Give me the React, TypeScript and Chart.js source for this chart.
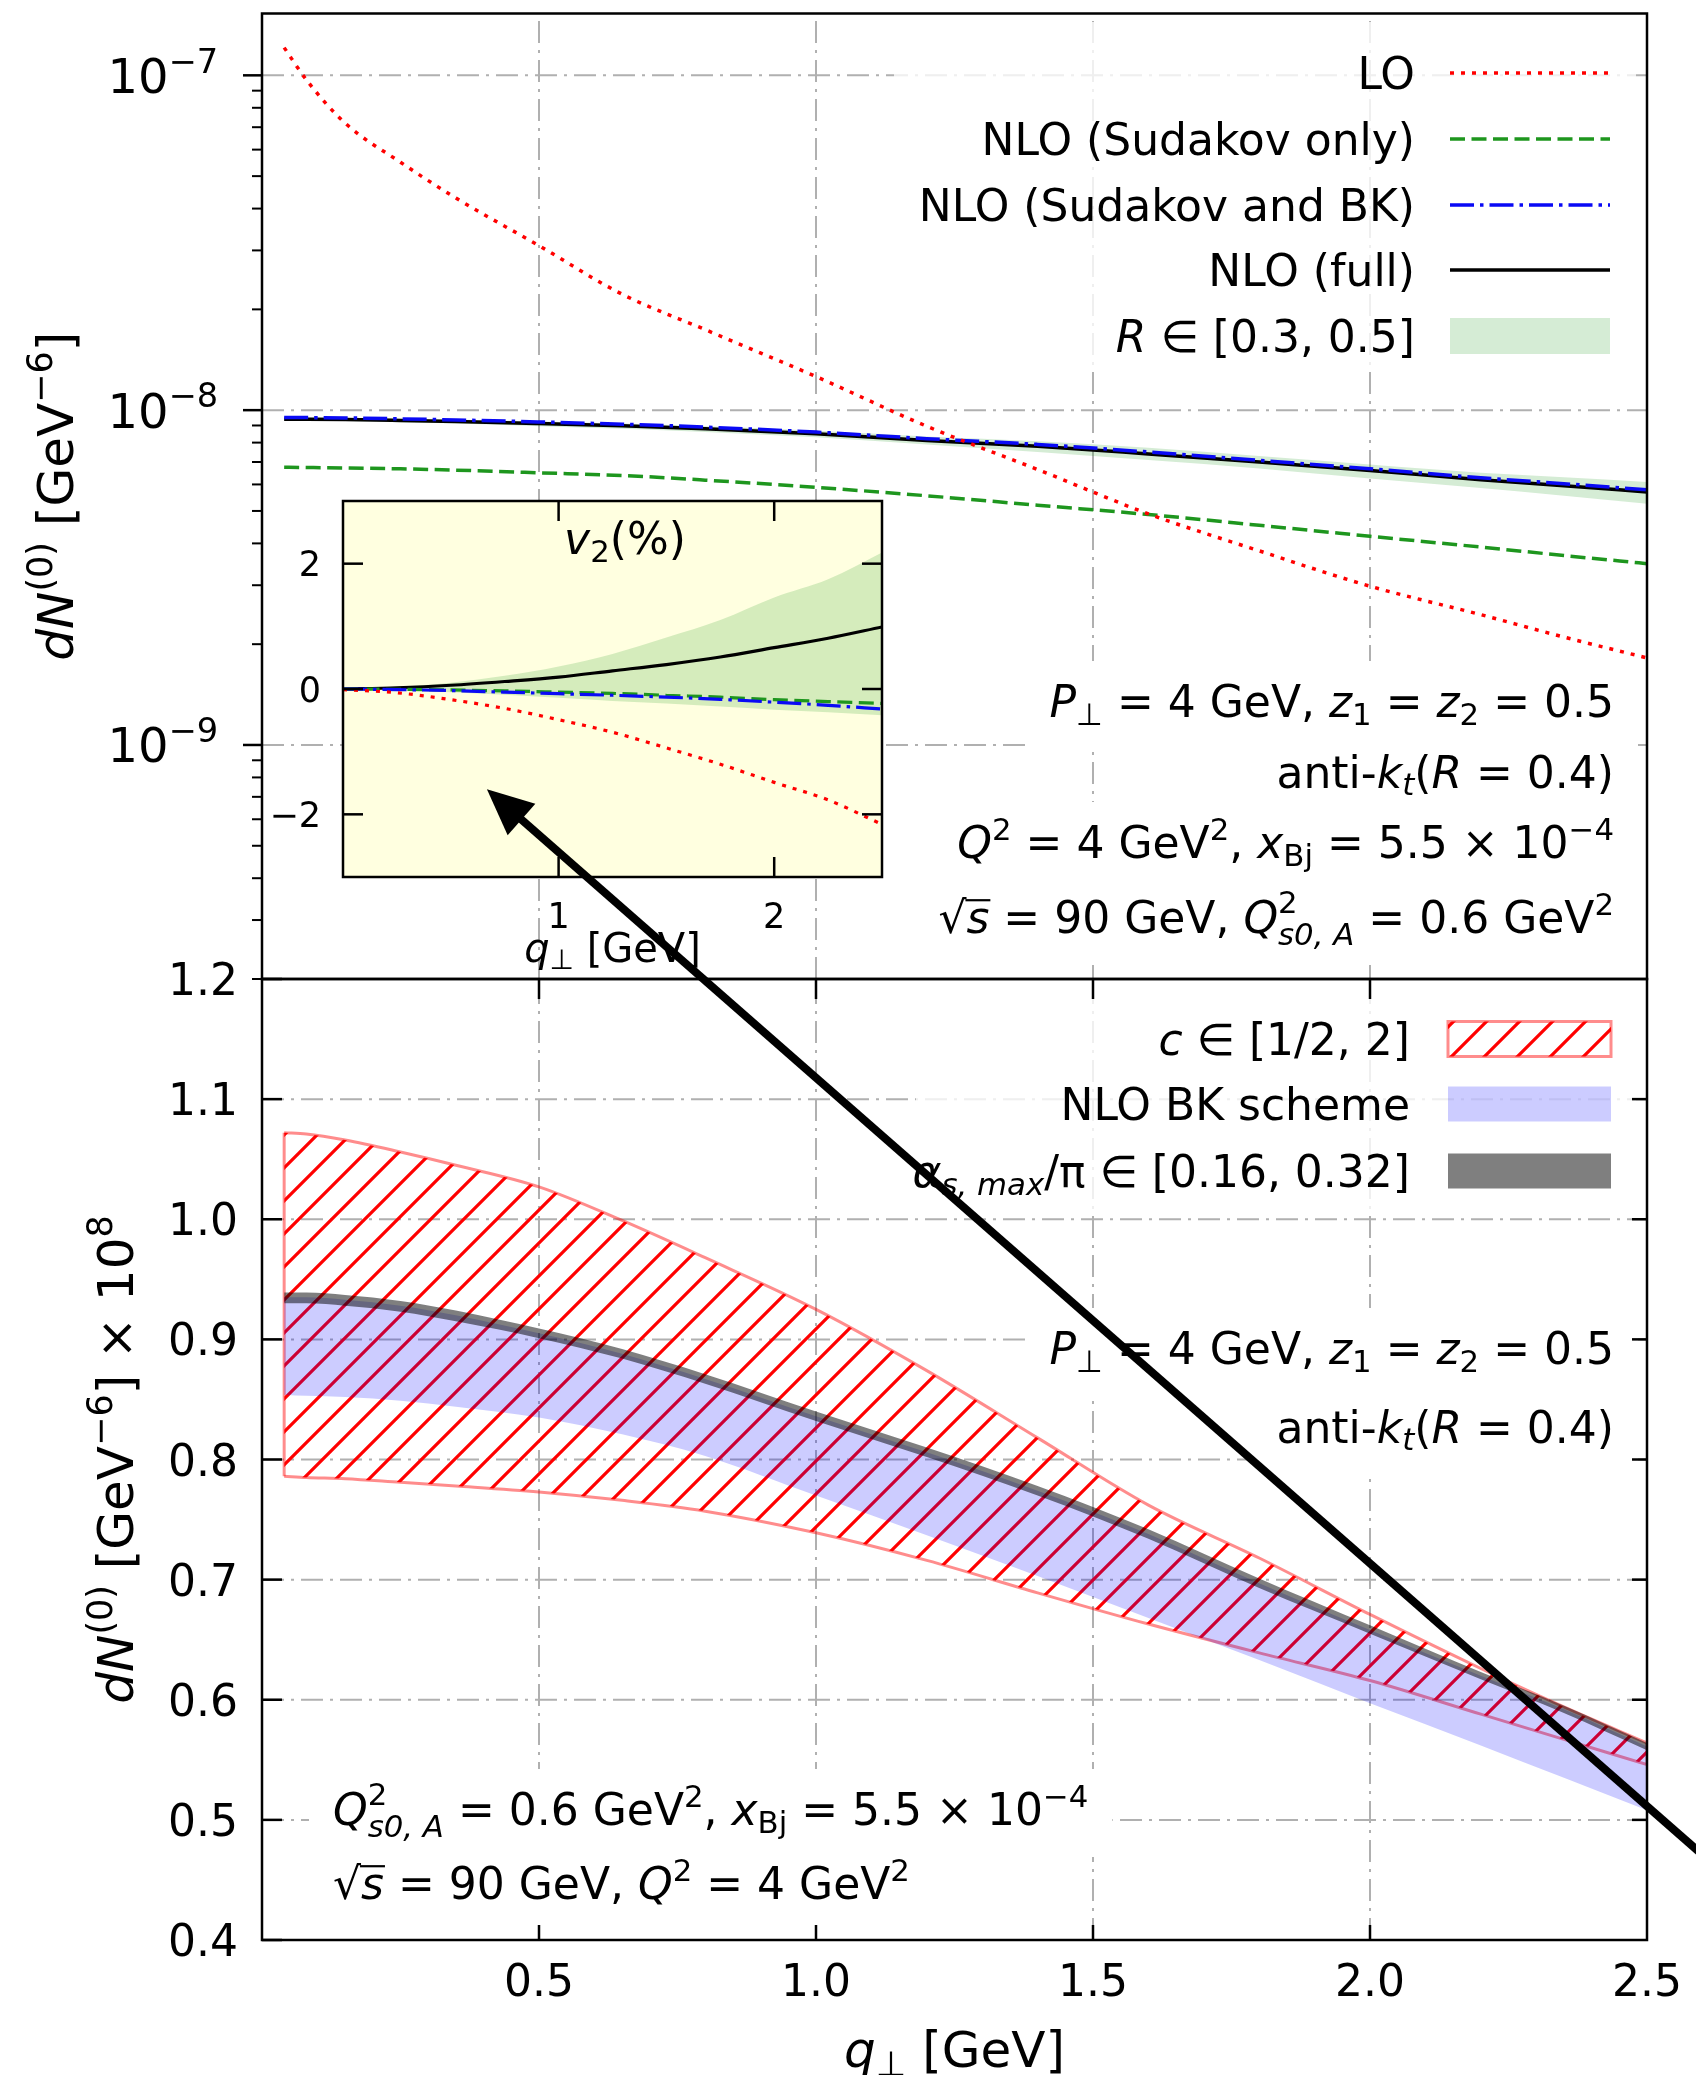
import React, { useEffect, useRef } from 'react';
import { Chart, registerables } from 'chart.js';

Chart.register(...registerables);

const W = 1696;
const H = 2075;

// ---------------- data ----------------
// q_perp values (GeV) shared by the two main panels
const Q = [0.04, 0.08, 0.15, 0.25, 0.35, 0.5, 0.65, 0.8, 1.0, 1.2, 1.4, 1.6, 1.8, 2.0, 2.2, 2.35, 2.5];

// top panel, dN^(0) [GeV^-6]
const LO = [1.21e-7, 9.7e-8, 7.2e-8, 5.5e-8, 4.3e-8, 3.1e-8, 2.22e-8, 1.74e-8, 1.26e-8, 8.95e-9, 6.65e-9, 4.9e-9, 3.8e-9, 2.98e-9, 2.45e-9, 2.1e-9, 1.82e-9];
const NLO_SUD = [6.75e-9, 6.74e-9, 6.72e-9, 6.68e-9, 6.62e-9, 6.5e-9, 6.38e-9, 6.18e-9, 5.88e-9, 5.55e-9, 5.2e-9, 4.88e-9, 4.53e-9, 4.2e-9, 3.9e-9, 3.68e-9, 3.48e-9];
const NLO_SUD_BK = [9.5e-9, 9.5e-9, 9.48e-9, 9.42e-9, 9.35e-9, 9.22e-9, 9.08e-9, 8.9e-9, 8.6e-9, 8.22e-9, 7.9e-9, 7.5e-9, 7.08e-9, 6.68e-9, 6.28e-9, 6.03e-9, 5.78e-9];
const NLO_FULL = [9.4e-9, 9.4e-9, 9.38e-9, 9.32e-9, 9.25e-9, 9.12e-9, 8.98e-9, 8.8e-9, 8.5e-9, 8.12e-9, 7.8e-9, 7.4e-9, 7.0e-9, 6.6e-9, 6.2e-9, 5.95e-9, 5.7e-9];
const R_LOW = [9.3e-9, 9.3e-9, 9.28e-9, 9.2e-9, 9.12e-9, 8.95e-9, 8.8e-9, 8.6e-9, 8.3e-9, 7.9e-9, 7.5e-9, 7.1e-9, 6.7e-9, 6.25e-9, 5.85e-9, 5.55e-9, 5.25e-9];
const R_HIGH = [9.5e-9, 9.5e-9, 9.48e-9, 9.43e-9, 9.37e-9, 9.25e-9, 9.12e-9, 8.95e-9, 8.68e-9, 8.35e-9, 8.08e-9, 7.72e-9, 7.3e-9, 6.88e-9, 6.5e-9, 6.3e-9, 6.1e-9];

// bottom panel, dN^(0) x 1e8
const C_LOW = [0.786, 0.785, 0.784, 0.781, 0.778, 0.773, 0.766, 0.757, 0.739, 0.716, 0.689, 0.663, 0.639, 0.616, 0.588, 0.567, 0.546];
const C_HIGH = [1.072, 1.071, 1.066, 1.056, 1.045, 1.027, 0.999, 0.968, 0.925, 0.874, 0.818, 0.762, 0.718, 0.671, 0.626, 0.594, 0.564];
const BK_LOW = [0.854, 0.853, 0.852, 0.849, 0.844, 0.835, 0.821, 0.803, 0.770, 0.737, 0.703, 0.668, 0.633, 0.597, 0.562, 0.535, 0.508];
const BK_HIGH = [0.935, 0.935, 0.933, 0.928, 0.920, 0.905, 0.888, 0.867, 0.836, 0.806, 0.774, 0.738, 0.697, 0.658, 0.620, 0.592, 0.561];
const AS_LOW = [0.930, 0.930, 0.928, 0.923, 0.915, 0.901, 0.884, 0.863, 0.832, 0.802, 0.770, 0.734, 0.693, 0.655, 0.617, 0.589, 0.558];
const AS_HIGH = [0.939, 0.939, 0.937, 0.932, 0.924, 0.909, 0.892, 0.871, 0.840, 0.810, 0.778, 0.742, 0.701, 0.662, 0.623, 0.595, 0.564];

// inset, v2 (%)
const IQ = [0, 0.25, 0.5, 0.75, 1.0, 1.25, 1.5, 1.75, 2.0, 2.25, 2.5];
const V2_LO = [-0.01, -0.06, -0.17, -0.31, -0.49, -0.69, -0.94, -1.2, -1.49, -1.77, -2.16];
const V2_SUD = [0, -0.005, -0.015, -0.03, -0.05, -0.07, -0.1, -0.13, -0.17, -0.2, -0.23];
const V2_SUD_BK = [0, -0.01, -0.025, -0.05, -0.075, -0.1, -0.13, -0.165, -0.21, -0.26, -0.32];
const V2_FULL = [0, 0.02, 0.06, 0.12, 0.19, 0.29, 0.39, 0.51, 0.66, 0.81, 0.99];
const V2_R_LOW = [0, -0.02, -0.05, -0.09, -0.14, -0.19, -0.23, -0.28, -0.33, -0.37, -0.42];
const V2_R_HIGH = [0, 0.03, 0.1, 0.21, 0.36, 0.56, 0.82, 1.1, 1.46, 1.75, 2.18];

// ticks
const X_GRID = [0.5, 1.0, 1.5, 2.0];
const X_TICKS = [0.5, 1.0, 1.5, 2.0, 2.5];
const TOP_Y_MAJOR = [1e-7, 1e-8, 1e-9];
const BOT_Y_TICKS = [0.4, 0.5, 0.6, 0.7, 0.8, 0.9, 1.0, 1.1, 1.2];
const BOT_Y_GRID = [0.5, 0.6, 0.7, 0.8, 0.9, 1.0, 1.1];
const INSET_X_TICKS = [1, 2];
const INSET_Y_TICKS = [-2, 0, 2];

// arrow annotation in bottom-panel data coordinates (q, dN x 1e8)
const ARROW_TAIL = [2.6, 0.471];
const ARROW_HEAD = [0.406, 1.358];

// ---------------- styles ----------------
const FONT = '"DejaVu Sans", "Liberation Sans", sans-serif';
const FS = 44;
const RED = 'rgb(255,0,0)';
const GREEN = 'rgb(30,150,30)';
const BLUE = 'rgb(10,10,245)';
const BLACK = '#000';
const R_BAND = 'rgba(44,160,44,0.2)';
const BK_BAND = 'rgba(0,0,255,0.2)';
const AS_BAND = 'rgba(0,0,0,0.5)';
const HATCH_EDGE = 'rgba(255,0,0,0.45)';
const GRID_COLOR = '#b0b0b0';
const INSET_BG = 'rgb(255,255,224)';
const DOT = [4, 7];
const DASH = [15, 6.5];
const DASHDOT = [24, 6, 3.5, 6];
const GRID_DASH = [22, 7, 3, 7];

type Seg = { t?: string; it?: boolean; sup?: boolean; sub?: boolean; over?: boolean; ss?: string[] };

const fnt = (size: number, it?: boolean) => `${it ? 'italic ' : ''}${size}px ${FONT}`;

function segW(ctx: any, s: Seg, size: number) {
  if (s.ss) {
    ctx.font = fnt(size * 0.7, false);
    const a = ctx.measureText(s.ss[0]).width;
    ctx.font = fnt(size * 0.7, true);
    const b = ctx.measureText(s.ss[1]).width;
    return Math.max(a, b);
  }
  ctx.font = fnt(s.sup || s.sub ? size * 0.7 : size, s.it);
  return ctx.measureText(s.t || '').width;
}

function richWidth(ctx: any, segs: Seg[], size: number) {
  ctx.save();
  let w = 0;
  for (const s of segs) w += segW(ctx, s, size);
  ctx.restore();
  return w;
}

function drawRich(ctx: any, segs: Seg[], x: number, y: number, size: number, align = 'left', color = '#000') {
  ctx.save();
  ctx.fillStyle = color;
  ctx.strokeStyle = color;
  ctx.textAlign = 'left';
  ctx.textBaseline = 'alphabetic';
  ctx.setLineDash([]);
  const w = richWidth(ctx, segs, size);
  let cx = align === 'right' ? x - w : align === 'center' ? x - w / 2 : x;
  for (const s of segs) {
    const sw = segW(ctx, s, size);
    if (s.ss) {
      ctx.font = fnt(size * 0.7, false);
      ctx.fillText(s.ss[0], cx, y - size * 0.45);
      ctx.font = fnt(size * 0.7, true);
      ctx.fillText(s.ss[1], cx, y + size * 0.27);
    } else {
      ctx.font = fnt(s.sup || s.sub ? size * 0.7 : size, s.it);
      const dy = s.sup ? -size * 0.42 : s.sub ? size * 0.18 : 0;
      ctx.fillText(s.t || '', cx, y + dy);
      if (s.over) {
        ctx.lineWidth = Math.max(1.5, size * 0.05);
        ctx.beginPath();
        ctx.moveTo(cx - 1, y - size * 0.745);
        ctx.lineTo(cx + sw + 1, y - size * 0.745);
        ctx.stroke();
      }
    }
    cx += sw;
  }
  ctx.restore();
  return w;
}

// ---------------- text content ----------------
const PPERP: Seg[] = [{ t: 'P', it: true }, { t: '⊥', sub: true }, { t: ' = 4 GeV, ' }, { t: 'z', it: true }, { t: '1', sub: true }, { t: ' = ' }, { t: 'z', it: true }, { t: '2', sub: true }, { t: ' = 0.5' }];
const ANTIKT: Seg[] = [{ t: 'anti-' }, { t: 'k', it: true }, { t: 't', it: true, sub: true }, { t: '(' }, { t: 'R', it: true }, { t: ' = 0.4)' }];
const Q2XBJ: Seg[] = [{ t: 'Q', it: true }, { t: '2', sup: true }, { t: ' = 4 GeV' }, { t: '2', sup: true }, { t: ', ' }, { t: 'x', it: true }, { t: 'Bj', sub: true }, { t: ' = 5.5 × 10' }, { t: '−4', sup: true }];
const SQRTS_QS: Seg[] = [{ t: '√' }, { t: 's', it: true, over: true }, { t: ' = 90 GeV, ' }, { t: 'Q', it: true }, { ss: ['2', 's0, A'] }, { t: ' = 0.6 GeV' }, { t: '2', sup: true }];
const QS_XBJ: Seg[] = [{ t: 'Q', it: true }, { ss: ['2', 's0, A'] }, { t: ' = 0.6 GeV' }, { t: '2', sup: true }, { t: ', ' }, { t: 'x', it: true }, { t: 'Bj', sub: true }, { t: ' = 5.5 × 10' }, { t: '−4', sup: true }];
const SQRTS_Q2: Seg[] = [{ t: '√' }, { t: 's', it: true, over: true }, { t: ' = 90 GeV, ' }, { t: 'Q', it: true }, { t: '2', sup: true }, { t: ' = 4 GeV' }, { t: '2', sup: true }];

const YTITLE_TOP: Seg[] = [{ t: 'dN', it: true }, { t: '(0)', sup: true }, { t: ' [GeV' }, { t: '−6', sup: true }, { t: ']' }];
const YTITLE_BOT: Seg[] = [...YTITLE_TOP, { t: ' × 10' }, { t: '8', sup: true }];
const XTITLE: Seg[] = [{ t: 'q', it: true }, { t: '⊥', sub: true }, { t: ' [GeV]' }];
const V2TITLE: Seg[] = [{ t: 'v', it: true }, { t: '2', sub: true }, { t: '(%)' }];

const NOTE_RIGHT = 1614;
const NOTE_LEFT = 333;
const TOP_NOTES = [
  { segs: PPERP, y: 701 },
  { segs: ANTIKT, y: 771.5 },
  { segs: Q2XBJ, y: 842 },
  { segs: SQRTS_QS, y: 917 },
];
const BOT_NOTES_R = [
  { segs: PPERP, y: 1348 },
  { segs: ANTIKT, y: 1426.5 },
];
const BOT_NOTES_L = [
  { segs: QS_XBJ, y: 1809 },
  { segs: SQRTS_Q2, y: 1883 },
];

// ---------------- helpers ----------------
const pts = (xs: number[], ys: number[]) => xs.map((x, i) => ({ x, y: ys[i] }));

function lineDs(label: string, xs: number[], ys: number[], color: string, dash: number[], width = 3.5) {
  return {
    label,
    data: pts(xs, ys),
    borderColor: color,
    borderWidth: width,
    borderDash: dash,
    pointRadius: 0,
    fill: false,
    cubicInterpolationMode: 'monotone',
  };
}

function bandDs(label: string, xs: number[], ys: number[], fill: any, bg: any, edge?: string) {
  return {
    label,
    data: pts(xs, ys),
    borderColor: edge || 'rgba(0,0,0,0)',
    borderWidth: edge ? 3 : 1,
    pointRadius: 0,
    fill,
    backgroundColor: bg,
    cubicInterpolationMode: 'monotone',
  };
}

function makeHatch(): any {
  const s = 33;
  const c = document.createElement('canvas');
  c.width = s;
  c.height = s;
  const g = c.getContext('2d')!;
  g.strokeStyle = 'rgb(255,0,0)';
  g.lineWidth = 3.2;
  g.beginPath();
  g.moveTo(0, s);
  g.lineTo(s, 0);
  g.moveTo(-2, 2);
  g.lineTo(2, -2);
  g.moveTo(s - 2, s + 2);
  g.lineTo(s + 2, s - 2);
  g.stroke();
  const ctx = document.createElement('canvas').getContext('2d')!;
  return ctx.createPattern(c, 'repeat');
}

function seg(ctx: any, x1: number, y1: number, x2: number, y2: number) {
  ctx.beginPath();
  ctx.moveTo(x1, y1);
  ctx.lineTo(x2, y2);
  ctx.stroke();
}

function drawGrid(ctx: any, a: any, xs: number[], ys: number[]) {
  ctx.save();
  ctx.beginPath();
  ctx.rect(a.left, a.top, a.right - a.left, a.bottom - a.top);
  ctx.clip();
  ctx.strokeStyle = GRID_COLOR;
  ctx.lineWidth = 2;
  ctx.setLineDash(GRID_DASH);
  for (const px of xs) seg(ctx, px, a.bottom, px, a.top);
  for (const py of ys) seg(ctx, a.left, py, a.right, py);
  ctx.restore();
}

function frame(ctx: any, a: any) {
  ctx.save();
  ctx.setLineDash([]);
  ctx.strokeStyle = '#000';
  ctx.lineWidth = 2.5;
  ctx.strokeRect(a.left, a.top, a.right - a.left, a.bottom - a.top);
  ctx.restore();
}

function noteBox(ctx: any, segs: Seg[], x: number, yc: number, align: string) {
  const w = richWidth(ctx, segs, FS);
  const left = align === 'right' ? x - w : x;
  ctx.save();
  ctx.fillStyle = '#fff';
  ctx.fillRect(left - 24, yc - 40, w + 48, 88);
  ctx.restore();
}

function drawLegend(ctx: any, items: any[], textRight: number, hx1: number, hx2: number, ys: number[], boxH: number) {
  items.forEach((it, i) => {
    const yc = ys[i];
    drawRich(ctx, it.segs, textRight, yc + 0.365 * FS, FS, 'right');
    ctx.save();
    if (it.kind === 'line') {
      ctx.strokeStyle = it.color;
      ctx.lineWidth = 3.5;
      ctx.setLineDash(it.dash);
      seg(ctx, hx1, yc, hx2, yc);
    } else {
      if (it.under) {
        ctx.fillStyle = it.under;
        ctx.fillRect(hx1, yc - boxH / 2, hx2 - hx1, boxH);
      }
      ctx.fillStyle = it.fill;
      ctx.fillRect(hx1, yc - boxH / 2, hx2 - hx1, boxH);
      if (it.edge) {
        ctx.strokeStyle = it.edge;
        ctx.lineWidth = 3;
        ctx.strokeRect(hx1, yc - boxH / 2, hx2 - hx1, boxH);
      }
    }
    ctx.restore();
  });
}

function drawArrow(ctx: any, x1: number, y1: number, x2: number, y2: number) {
  const dx = x2 - x1;
  const dy = y2 - y1;
  const L = Math.hypot(dx, dy);
  const ux = dx / L;
  const uy = dy / L;
  const headLen = 46;
  const headHalf = 21;
  const bx = x2 - ux * headLen;
  const by = y2 - uy * headLen;
  ctx.save();
  ctx.setLineDash([]);
  ctx.strokeStyle = '#000';
  ctx.fillStyle = '#000';
  ctx.lineWidth = 8;
  seg(ctx, x1, y1, bx + ux * 4, by + uy * 4);
  ctx.beginPath();
  ctx.moveTo(x2, y2);
  ctx.lineTo(bx - uy * headHalf, by + ux * headHalf);
  ctx.lineTo(bx + uy * headHalf, by - ux * headHalf);
  ctx.closePath();
  ctx.fill();
  ctx.restore();
}

function baseOptions(pad: any, xMin: number, xMax: number, yType: string, yMin: number, yMax: number) {
  return {
    responsive: false,
    animation: false,
    devicePixelRatio: 1,
    events: [],
    layout: { padding: pad },
    plugins: { legend: { display: false }, tooltip: { enabled: false }, title: { display: false } },
    scales: {
      x: { type: 'linear', min: xMin, max: xMax, display: false },
      y: { type: yType, min: yMin, max: yMax, display: false },
    },
  };
}

// ---------------- charts ----------------
function topConfig(): any {
  const yMin = 2e-10;
  const yMax = 1.53e-7;
  const minors: number[] = [];
  for (let d = -10; d <= -7; d++) for (let m = 2; m <= 9; m++) {
    const v = m * Math.pow(10, d);
    if (v >= yMin * 0.999 && v <= yMax) minors.push(v);
  }
  const legendItems = [
    { segs: [{ t: 'LO' }], kind: 'line', color: RED, dash: DOT },
    { segs: [{ t: 'NLO (Sudakov only)' }], kind: 'line', color: GREEN, dash: DASH },
    { segs: [{ t: 'NLO (Sudakov and BK)' }], kind: 'line', color: BLUE, dash: DASHDOT },
    { segs: [{ t: 'NLO (full)' }], kind: 'line', color: BLACK, dash: [] },
    { segs: [{ t: 'R', it: true }, { t: ' ∈ [0.3, 0.5]' }], kind: 'box', fill: R_BAND },
  ];
  const plugin = {
    id: 'topDecor',
    beforeDatasetsDraw(chart: any) {
      const { ctx, chartArea: a } = chart;
      const sx = chart.scales.x;
      const sy = chart.scales.y;
      drawGrid(ctx, a, X_GRID.map((v) => sx.getPixelForValue(v)), TOP_Y_MAJOR.map((v) => sy.getPixelForValue(v)));
      ctx.save();
      ctx.fillStyle = 'rgba(255,255,255,0.8)';
      ctx.fillRect(894, 22, 742, 350);
      ctx.restore();
      TOP_NOTES.forEach((n) => noteBox(ctx, n.segs, NOTE_RIGHT, n.y, 'right'));
    },
    afterDatasetsDraw(chart: any) {
      const { ctx, chartArea: a } = chart;
      const sy = chart.scales.y;
      frame(ctx, a);
      ctx.save();
      ctx.strokeStyle = '#000';
      ctx.setLineDash([]);
      ctx.lineWidth = 2.5;
      for (const v of TOP_Y_MAJOR) {
        const py = sy.getPixelForValue(v);
        seg(ctx, a.left - 19, py, a.left, py);
      }
      ctx.lineWidth = 2;
      for (const v of minors) {
        const py = sy.getPixelForValue(v);
        seg(ctx, a.left - 10, py, a.left, py);
      }
      ctx.restore();
      for (const v of TOP_Y_MAJOR) {
        const e = Math.round(Math.log10(v));
        drawRich(ctx, [{ t: '10' }, { t: '−' + String(-e), sup: true }], a.left - 44, sy.getPixelForValue(v) + 17.5, 48, 'right');
      }
      drawLegend(ctx, legendItems, 1415, 1450, 1610, [73, 139, 205, 270, 336], 36);
      TOP_NOTES.forEach((n) => drawRich(ctx, n.segs, NOTE_RIGHT, n.y + 16, FS, 'right'));
      ctx.save();
      ctx.translate(55, (a.top + a.bottom) / 2);
      ctx.rotate(-Math.PI / 2);
      drawRich(ctx, YTITLE_TOP, 0, 0.365 * 50, 50, 'center');
      ctx.restore();
    },
  };
  return {
    type: 'line',
    data: {
      datasets: [
        lineDs('LO', Q, LO, RED, DOT),
        lineDs('NLO (Sudakov and BK)', Q, NLO_SUD_BK, BLUE, DASHDOT),
        lineDs('NLO (full)', Q, NLO_FULL, BLACK, []),
        lineDs('NLO (Sudakov only)', Q, NLO_SUD, GREEN, DASH),
        bandDs('R low', Q, R_LOW, false, 'rgba(0,0,0,0)'),
        bandDs('R in [0.3,0.5]', Q, R_HIGH, '-1', R_BAND),
      ],
    },
    options: baseOptions({ left: 262, right: W - 1647, top: 13.5, bottom: H - 979 }, 0, 2.5, 'logarithmic', yMin, yMax),
    plugins: [plugin],
  };
}

function bottomConfig(): any {
  const hatch = makeHatch();
  const legendItems = [
    { segs: [{ t: 'c', it: true }, { t: ' ∈ [1/2, 2]' }], kind: 'box', fill: hatch, under: '#fff', edge: HATCH_EDGE },
    { segs: [{ t: 'NLO BK scheme' }], kind: 'box', fill: BK_BAND },
    { segs: [{ t: 'α', it: true }, { t: 's, max', it: true, sub: true }, { t: '/π ∈ [0.16, 0.32]' }], kind: 'box', fill: AS_BAND },
  ];
  const plugin = {
    id: 'botDecor',
    beforeDatasetsDraw(chart: any) {
      const { ctx, chartArea: a } = chart;
      const sx = chart.scales.x;
      const sy = chart.scales.y;
      drawGrid(ctx, a, X_GRID.map((v) => sx.getPixelForValue(v)), BOT_Y_GRID.map((v) => sy.getPixelForValue(v)));
      ctx.save();
      ctx.fillStyle = 'rgba(255,255,255,0.8)';
      ctx.fillRect(916, 993, 720, 219);
      ctx.restore();
      BOT_NOTES_R.forEach((n) => noteBox(ctx, n.segs, NOTE_RIGHT, n.y, 'right'));
      BOT_NOTES_L.forEach((n) => noteBox(ctx, n.segs, NOTE_LEFT, n.y, 'left'));
    },
    afterDatasetsDraw(chart: any) {
      const { ctx, chartArea: a } = chart;
      const sx = chart.scales.x;
      const sy = chart.scales.y;
      frame(ctx, a);
      ctx.save();
      ctx.strokeStyle = '#000';
      ctx.setLineDash([]);
      ctx.lineWidth = 2.5;
      for (const v of BOT_Y_TICKS) {
        const py = sy.getPixelForValue(v);
        seg(ctx, a.left, py, a.left + 20, py);
      }
      for (const v of BOT_Y_GRID) {
        const py = sy.getPixelForValue(v);
        seg(ctx, a.right - 15, py, a.right, py);
      }
      for (const v of X_GRID) {
        const px = sx.getPixelForValue(v);
        seg(ctx, px, a.bottom - 15, px, a.bottom);
        seg(ctx, px, a.top, px, a.top + 20);
      }
      ctx.restore();
      for (const v of BOT_Y_TICKS) {
        drawRich(ctx, [{ t: v.toFixed(1) }], a.left - 24, sy.getPixelForValue(v) + 16, FS, 'right');
      }
      for (const v of X_TICKS) {
        drawRich(ctx, [{ t: v.toFixed(1) }], sx.getPixelForValue(v), a.bottom + 56, FS, 'center');
      }
      drawLegend(ctx, legendItems, 1410, 1448, 1611, [1039, 1104, 1171], 35);
      BOT_NOTES_R.forEach((n) => drawRich(ctx, n.segs, NOTE_RIGHT, n.y + 16, FS, 'right'));
      BOT_NOTES_L.forEach((n) => drawRich(ctx, n.segs, NOTE_LEFT, n.y + 16, FS, 'left'));
      ctx.save();
      ctx.translate(115, (a.top + a.bottom) / 2);
      ctx.rotate(-Math.PI / 2);
      drawRich(ctx, YTITLE_BOT, 0, 0.365 * 50, 50, 'center');
      ctx.restore();
      drawRich(ctx, XTITLE, (a.left + a.right) / 2, 2067, 50, 'center');
    },
  };
  const edge = (i: number) => ({
    label: 'edge',
    data: [{ x: Q[i], y: C_LOW[i] }, { x: Q[i], y: C_HIGH[i] }],
    borderColor: HATCH_EDGE,
    borderWidth: 3,
    pointRadius: 0,
    fill: false,
    tension: 0,
  });
  return {
    type: 'line',
    data: {
      datasets: [
        bandDs('as low', Q, AS_LOW, false, 'rgba(0,0,0,0)'),
        bandDs('alpha_s,max', Q, AS_HIGH, '-1', AS_BAND),
        bandDs('bk low', Q, BK_LOW, false, 'rgba(0,0,0,0)'),
        bandDs('NLO BK scheme', Q, BK_HIGH, '-1', BK_BAND),
        bandDs('c low', Q, C_LOW, false, 'rgba(0,0,0,0)', HATCH_EDGE),
        bandDs('c in [1/2,2]', Q, C_HIGH, '-1', hatch, HATCH_EDGE),
        edge(0),
        edge(Q.length - 1),
      ],
    },
    options: baseOptions({ left: 262, right: W - 1647, top: 979, bottom: H - 1940 }, 0, 2.5, 'linear', 0.4, 1.2),
    plugins: [plugin],
  };
}

function insetConfig(getBottom: () => any): any {
  const plugin = {
    id: 'insetDecor',
    beforeDraw(chart: any) {
      const { ctx, chartArea: a } = chart;
      ctx.save();
      ctx.fillStyle = INSET_BG;
      ctx.fillRect(a.left, a.top, a.right - a.left, a.bottom - a.top);
      ctx.restore();
    },
    afterDatasetsDraw(chart: any) {
      const { ctx, chartArea: a } = chart;
      const sx = chart.scales.x;
      const sy = chart.scales.y;
      frame(ctx, a);
      ctx.save();
      ctx.strokeStyle = '#000';
      ctx.setLineDash([]);
      ctx.lineWidth = 2.5;
      for (const v of INSET_Y_TICKS) {
        const py = sy.getPixelForValue(v);
        seg(ctx, a.left, py, a.left + 20, py);
        seg(ctx, a.right - 20, py, a.right, py);
      }
      for (const v of INSET_X_TICKS) {
        const px = sx.getPixelForValue(v);
        seg(ctx, px, a.top, px, a.top + 20);
        seg(ctx, px, a.bottom - 20, px, a.bottom);
      }
      ctx.restore();
      for (const v of INSET_Y_TICKS) {
        const lab = v < 0 ? '−' + String(-v) : String(v);
        drawRich(ctx, [{ t: lab }], a.left - 22, sy.getPixelForValue(v) + 12.8, 35, 'right');
      }
      for (const v of INSET_X_TICKS) {
        drawRich(ctx, [{ t: String(v) }], sx.getPixelForValue(v), a.bottom + 51, 35, 'center');
      }
      drawRich(ctx, V2TITLE, 625, 554, FS, 'center');
      drawRich(ctx, XTITLE, (a.left + a.right) / 2, 962, 40, 'center');
    },
    afterDraw(chart: any) {
      const bot = getBottom();
      if (!bot) return;
      const bx = bot.scales.x;
      const by = bot.scales.y;
      drawArrow(chart.ctx,
        bx.getPixelForValue(ARROW_TAIL[0]), by.getPixelForValue(ARROW_TAIL[1]),
        bx.getPixelForValue(ARROW_HEAD[0]), by.getPixelForValue(ARROW_HEAD[1]));
    },
  };
  return {
    type: 'line',
    data: {
      datasets: [
        lineDs('LO', IQ, V2_LO, RED, DOT, 3.2),
        lineDs('NLO (Sudakov and BK)', IQ, V2_SUD_BK, BLUE, DASHDOT, 3.2),
        lineDs('NLO (Sudakov only)', IQ, V2_SUD, GREEN, DASH, 3.2),
        lineDs('NLO (full)', IQ, V2_FULL, BLACK, [], 3.2),
        bandDs('R low', IQ, V2_R_LOW, false, 'rgba(0,0,0,0)'),
        bandDs('R band', IQ, V2_R_HIGH, '-1', R_BAND),
      ],
    },
    options: baseOptions({ left: 343, right: W - 882, top: 501, bottom: H - 877 }, 0, 2.5, 'linear', -3, 3),
    plugins: [plugin],
  };
}

export default function App() {
  const topRef = useRef<HTMLCanvasElement>(null);
  const botRef = useRef<HTMLCanvasElement>(null);
  const insRef = useRef<HTMLCanvasElement>(null);

  useEffect(() => {
    let bot: any = null;
    const top = new Chart(topRef.current as any, topConfig());
    bot = new Chart(botRef.current as any, bottomConfig());
    const ins = new Chart(insRef.current as any, insetConfig(() => bot));
    return () => {
      top.destroy();
      bot.destroy();
      ins.destroy();
    };
  }, []);

  const cs: any = { position: 'absolute', left: 0, top: 0, width: W, height: H };
  return (
    <div style={{ position: 'absolute', left: 0, top: 0, width: W, height: H, background: '#fff', overflow: 'hidden' }}>
      <canvas ref={topRef} width={W} height={H} style={cs} />
      <canvas ref={botRef} width={W} height={H} style={cs} />
      <canvas ref={insRef} width={W} height={H} style={cs} />
    </div>
  );
}
